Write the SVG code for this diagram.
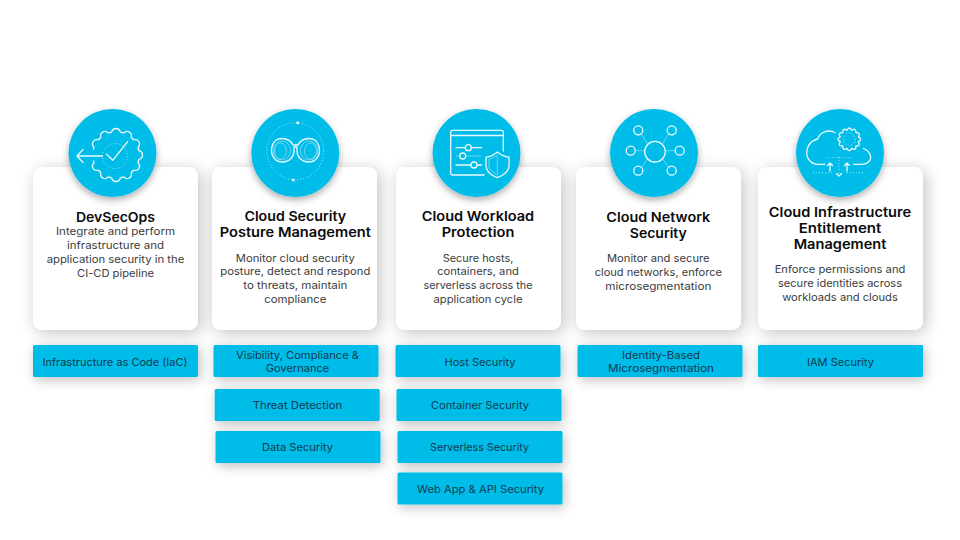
<svg xmlns="http://www.w3.org/2000/svg" xmlns:xlink="http://www.w3.org/1999/xlink" width="960" height="540" viewBox="0 0 960 540">
<style>
text{font-family:"Inter","Liberation Sans",sans-serif;text-anchor:middle}
.t{font-size:13.2px;font-weight:600;fill:#0b0b0b}
.b{font-size:10.6px;font-weight:400;fill:#3a3b3d}
.l{font-size:10.6px;font-weight:400;fill:#123a50}
.card{fill:#fff;filter:url(#cs)}
.disc{fill:#00bce8;filter:url(#ds)}
.box{fill:#00bce8;filter:url(#bs)}
.i{fill:none;stroke:#fff;stroke-width:1.3;stroke-opacity:.92;stroke-linecap:round;stroke-linejoin:round}
.f{fill:none;stroke:#fff;stroke-width:.8;stroke-opacity:.5}
.d{fill:none;stroke:#fff;stroke-width:.9;stroke-dasharray:1 2;stroke-opacity:.7}
</style>
<defs>
<filter id="cs" x="-25%" y="-25%" width="150%" height="150%"><feDropShadow dx="3" dy="3" stdDeviation="8" flood-color="#000" flood-opacity=".24"/></filter>
<filter id="ds" x="-30%" y="-30%" width="160%" height="160%"><feDropShadow dx="0" dy="3" stdDeviation="3.5" flood-color="#000" flood-opacity=".33"/></filter>
<filter id="bs" x="-15%" y="-60%" width="130%" height="240%"><feDropShadow dx="2" dy="3" stdDeviation="6" flood-color="#000" flood-opacity=".25"/></filter>
<path id="tooth" d="M-6.06-22.6Q-4.5-22-3.8-24.2Q-3-26.5 0-26.5Q3-26.5 3.8-24.2Q4.5-22 6.06-22.6"/>
<path id="smalltooth" d="M-2.5-9.4Q-1.9-9.2-1.6-10.2Q-1.2-11.3 0-11.3Q1.2-11.3 1.6-10.2Q1.9-9.2 2.5-9.4"/>
</defs>
<rect width="960" height="540" fill="#fff"/>

<g id="node-devsecops">
<rect class="card" x="33" y="167" width="165" height="163" rx="9"/>
<circle class="disc" cx="112.5" cy="153" r="44"/>
<g class="i" transform="translate(116 155)">
<use xlink:href="#tooth"/><use xlink:href="#tooth" transform="rotate(30)"/><use xlink:href="#tooth" transform="rotate(60)"/><use xlink:href="#tooth" transform="rotate(90)"/><use xlink:href="#tooth" transform="rotate(120)"/><use xlink:href="#tooth" transform="rotate(150)"/><use xlink:href="#tooth" transform="rotate(180)"/><use xlink:href="#tooth" transform="rotate(210)"/><use xlink:href="#tooth" transform="rotate(240)"/><use xlink:href="#tooth" transform="rotate(300)"/><use xlink:href="#tooth" transform="rotate(330)"/>
</g>
<circle class="d" cx="115" cy="156" r="12.5"/>
<path class="i" d="M77 156H102.5M83 149.5L77 156L83 162.5M106.7 154.3L112.7 160.3L127.7 141.7"/>
<text class="t" x="115.5" y="221.5" textLength="79" lengthAdjust="spacingAndGlyphs">DevSecOps</text>
<text class="b" x="115.5" y="235" textLength="119" lengthAdjust="spacingAndGlyphs">Integrate and perform</text>
<text class="b" x="115.5" y="249" textLength="97" lengthAdjust="spacingAndGlyphs">infrastructure and</text>
<text class="b" x="115.5" y="263" textLength="137.7" lengthAdjust="spacingAndGlyphs">application security in the</text>
<text class="b" x="115.5" y="277" textLength="77" lengthAdjust="spacingAndGlyphs">CI-CD pipeline</text>
</g>

<g id="node-cspm">
<rect class="card" x="212" y="167" width="165" height="163" rx="9"/>
<circle class="disc" cx="295.3" cy="153" r="44"/>
<circle class="d" cx="295.3" cy="151.3" r="28.5"/>
<circle cx="297.7" cy="122.7" r="1.5" fill="#fff" fill-opacity=".85"/><circle cx="293.3" cy="180" r="1.5" fill="#fff" fill-opacity=".85"/>
<path class="i" d="M293 145C291 141 288 138.5 282 138.5C275 138.5 271.5 144 271.5 150.5C271.5 157 276 162 282.5 162C289 162 294 157 294 151V147H297V151C297 157 302 162 308.5 162C315 162 319.5 157 319.5 150.5C319.5 144 316 138.5 309 138.5C303 138.5 300 141 298 145Z"/>
<ellipse class="f" cx="282" cy="150.5" rx="8.5" ry="9.5"/><ellipse class="f" cx="280.5" cy="151" rx="6" ry="8"/><ellipse class="f" cx="309" cy="150.5" rx="8.5" ry="9.5"/><ellipse class="f" cx="310.5" cy="151" rx="6" ry="8"/>
<text class="t" x="295.3" y="220.7" textLength="101.7" lengthAdjust="spacingAndGlyphs">Cloud Security</text>
<text class="t" x="295.3" y="236.7" textLength="151.3" lengthAdjust="spacingAndGlyphs">Posture Management</text>
<text class="b" x="295.3" y="261.5" textLength="119" lengthAdjust="spacingAndGlyphs">Monitor cloud security</text>
<text class="b" x="295.3" y="275" textLength="150" lengthAdjust="spacingAndGlyphs">posture, detect and respond</text>
<text class="b" x="295.3" y="289" textLength="104" lengthAdjust="spacingAndGlyphs">to threats, maintain</text>
<text class="b" x="295.3" y="303" textLength="62.3" lengthAdjust="spacingAndGlyphs">compliance</text>
</g>

<g id="node-cwp">
<rect class="card" x="396" y="167" width="165" height="163" rx="9"/>
<circle class="disc" cx="476.5" cy="153" r="44"/>
<path class="i" stroke-width="1.1" d="M484 175H452.7Q450.7 175 450.7 173V132.3Q450.7 130.3 452.7 130.3H501.3Q503.3 130.3 503.3 132.3V151M450.7 135.5H503.3M456 147.7H465.3M471.3 147.7H481.7M456 165H471M477 165H481.7"/>
<circle class="i" cx="468.3" cy="147.7" r="3"/><circle class="i" cx="462.7" cy="156" r="3"/><circle class="i" cx="474" cy="165" r="3"/>
<path class="f" d="M456 156H459.7M465.7 156H481.7"/>
<path class="i" d="M497.3 152Q492 156.5 486 157.2V166Q486.5 173.5 497.3 177.7Q508.5 173.5 509 166V157.2Q503 156.5 497.3 152Z"/>
<path class="f" d="M497.3 155.5Q493 158.5 489 159.2V166Q490 171.5 497.3 174.5Z"/>
<text class="t" x="478" y="220.7" textLength="112.3" lengthAdjust="spacingAndGlyphs">Cloud Workload</text>
<text class="t" x="478" y="236.7" textLength="72.7" lengthAdjust="spacingAndGlyphs">Protection</text>
<text class="b" x="478" y="261.5" textLength="70.7" lengthAdjust="spacingAndGlyphs">Secure hosts,</text>
<text class="b" x="478" y="275" textLength="81.7" lengthAdjust="spacingAndGlyphs">containers, and</text>
<text class="b" x="478" y="289" textLength="109" lengthAdjust="spacingAndGlyphs">serverless across the</text>
<text class="b" x="478" y="303" textLength="89" lengthAdjust="spacingAndGlyphs">application cycle</text>
</g>

<g id="node-cns">
<rect class="card" x="576" y="167" width="165" height="163" rx="9"/>
<circle class="disc" cx="654" cy="153" r="44"/>
<path class="f" d="M641.5 134L647.5 144M668.5 134L662.5 144M635.5 150.7H644.5M675 150.7H665.5M641.5 167L647.5 159M668.5 167L662.5 159"/>
<circle class="i" stroke-width="1.8" cx="655" cy="151.7" r="10.3"/>
<g class="i" stroke-width="1.7">
<circle cx="638.3" cy="130.3" r="4.5"/><circle cx="671.7" cy="130.3" r="4.5"/><circle cx="630.7" cy="150.7" r="4.5"/><circle cx="679.7" cy="150.7" r="4.5"/><circle cx="638.3" cy="170.7" r="4.5"/><circle cx="671.7" cy="170.7" r="4.5"/>
</g>
<text class="t" x="658.3" y="222" textLength="104" lengthAdjust="spacingAndGlyphs">Cloud Network</text>
<text class="t" x="658.3" y="238" textLength="57" lengthAdjust="spacingAndGlyphs">Security</text>
<text class="b" x="658.3" y="262" textLength="102.7" lengthAdjust="spacingAndGlyphs">Monitor and secure</text>
<text class="b" x="658.3" y="276" textLength="127.3" lengthAdjust="spacingAndGlyphs">cloud networks, enforce</text>
<text class="b" x="658.3" y="290" textLength="106" lengthAdjust="spacingAndGlyphs">microsegmentation</text>
</g>

<g id="node-ciem">
<rect class="card" x="758" y="167" width="165" height="163" rx="9"/>
<circle class="disc" cx="840" cy="153" r="44"/>
<g class="i" stroke-width=".9" transform="translate(849.3 139.3)">
<use xlink:href="#smalltooth"/><use xlink:href="#smalltooth" transform="rotate(30)"/><use xlink:href="#smalltooth" transform="rotate(60)"/><use xlink:href="#smalltooth" transform="rotate(90)"/><use xlink:href="#smalltooth" transform="rotate(120)"/><use xlink:href="#smalltooth" transform="rotate(150)"/><use xlink:href="#smalltooth" transform="rotate(180)"/><use xlink:href="#smalltooth" transform="rotate(210)"/><use xlink:href="#smalltooth" transform="rotate(240)"/><use xlink:href="#smalltooth" transform="rotate(270)"/><use xlink:href="#smalltooth" transform="rotate(300)"/><use xlink:href="#smalltooth" transform="rotate(330)"/>
</g>
<circle class="d" cx="849.3" cy="139.3" r="6"/>
<path class="i" stroke-width="1.1" d="M835 132.5C828 129 820 132 817.5 139C810 141 806.5 147 806.7 153C807 160 812 164.3 818 164.3H825M863.3 148.5C868 150 871 154 870.7 158C870.3 162 866 164.3 861.7 164.3H853.5"/>
<path class="d" d="M826.7 157.7H853M813 172.7H832M847 172.7H865"/>
<path class="i" stroke-width=".9" d="M830 171V163M827.5 165.5L830 163L832.5 165.5M847 171V163M844.5 165.5L847 163L849.5 165.5M836.5 173.5L839 176L841.5 173.5"/>
<path class="d" d="M839 157V175"/>
<text class="t" x="840" y="216.5" textLength="142.3" lengthAdjust="spacingAndGlyphs">Cloud Infrastructure</text>
<text class="t" x="840" y="232.5" textLength="82.7" lengthAdjust="spacingAndGlyphs">Entitlement</text>
<text class="t" x="840" y="248.5" textLength="92.7" lengthAdjust="spacingAndGlyphs">Management</text>
<text class="b" x="840" y="273" textLength="130.7" lengthAdjust="spacingAndGlyphs">Enforce permissions and</text>
<text class="b" x="840" y="287" textLength="124" lengthAdjust="spacingAndGlyphs">secure identities across</text>
<text class="b" x="840" y="301" textLength="115.7" lengthAdjust="spacingAndGlyphs">workloads and clouds</text>
</g>

<g id="node-iac"><rect class="box" x="33" y="345" width="165" height="32" rx="1.5"/>
<text class="l" x="115" y="366" textLength="145" lengthAdjust="spacingAndGlyphs">Infrastructure as Code (IaC)</text></g>
<g id="node-visibility"><rect class="box" x="213.5" y="345" width="165" height="32" rx="1.5"/>
<text class="l" x="297.5" y="359" textLength="123" lengthAdjust="spacingAndGlyphs">Visibility, Compliance &amp;</text>
<text class="l" x="297.5" y="372" textLength="63.3" lengthAdjust="spacingAndGlyphs">Governance</text></g>
<g id="node-threat"><rect class="box" x="214.7" y="389" width="165" height="32" rx="1.5"/>
<text class="l" x="297.5" y="409" textLength="89.7" lengthAdjust="spacingAndGlyphs">Threat Detection</text></g>
<g id="node-data"><rect class="box" x="215.5" y="431" width="165" height="32" rx="1.5"/>
<text class="l" x="297.5" y="451" textLength="71" lengthAdjust="spacingAndGlyphs">Data Security</text></g>
<g id="node-host"><rect class="box" x="395.5" y="345" width="165" height="32" rx="1.5"/>
<text class="l" x="480" y="366" textLength="71" lengthAdjust="spacingAndGlyphs">Host Security</text></g>
<g id="node-container"><rect class="box" x="396.5" y="389" width="165" height="32" rx="1.5"/>
<text class="l" x="480" y="409" textLength="98" lengthAdjust="spacingAndGlyphs">Container Security</text></g>
<g id="node-serverless"><rect class="box" x="397.5" y="431" width="165" height="32" rx="1.5"/>
<text class="l" x="479.5" y="451" textLength="99" lengthAdjust="spacingAndGlyphs">Serverless Security</text></g>
<g id="node-webapp"><rect class="box" x="397.5" y="472.5" width="165" height="32" rx="1.5"/>
<text class="l" x="480.5" y="492.5" textLength="127" lengthAdjust="spacingAndGlyphs">Web App &amp; API Security</text></g>
<g id="node-identity"><rect class="box" x="577.5" y="345" width="165" height="32" rx="1.5"/>
<text class="l" x="661" y="359" textLength="78" lengthAdjust="spacingAndGlyphs">Identity-Based</text>
<text class="l" x="661" y="372" textLength="106" lengthAdjust="spacingAndGlyphs">Microsegmentation</text></g>
<g id="node-iam"><rect class="box" x="758" y="345" width="165" height="32" rx="1.5"/>
<text class="l" x="840.5" y="366" textLength="67" lengthAdjust="spacingAndGlyphs">IAM Security</text></g>
</svg>
